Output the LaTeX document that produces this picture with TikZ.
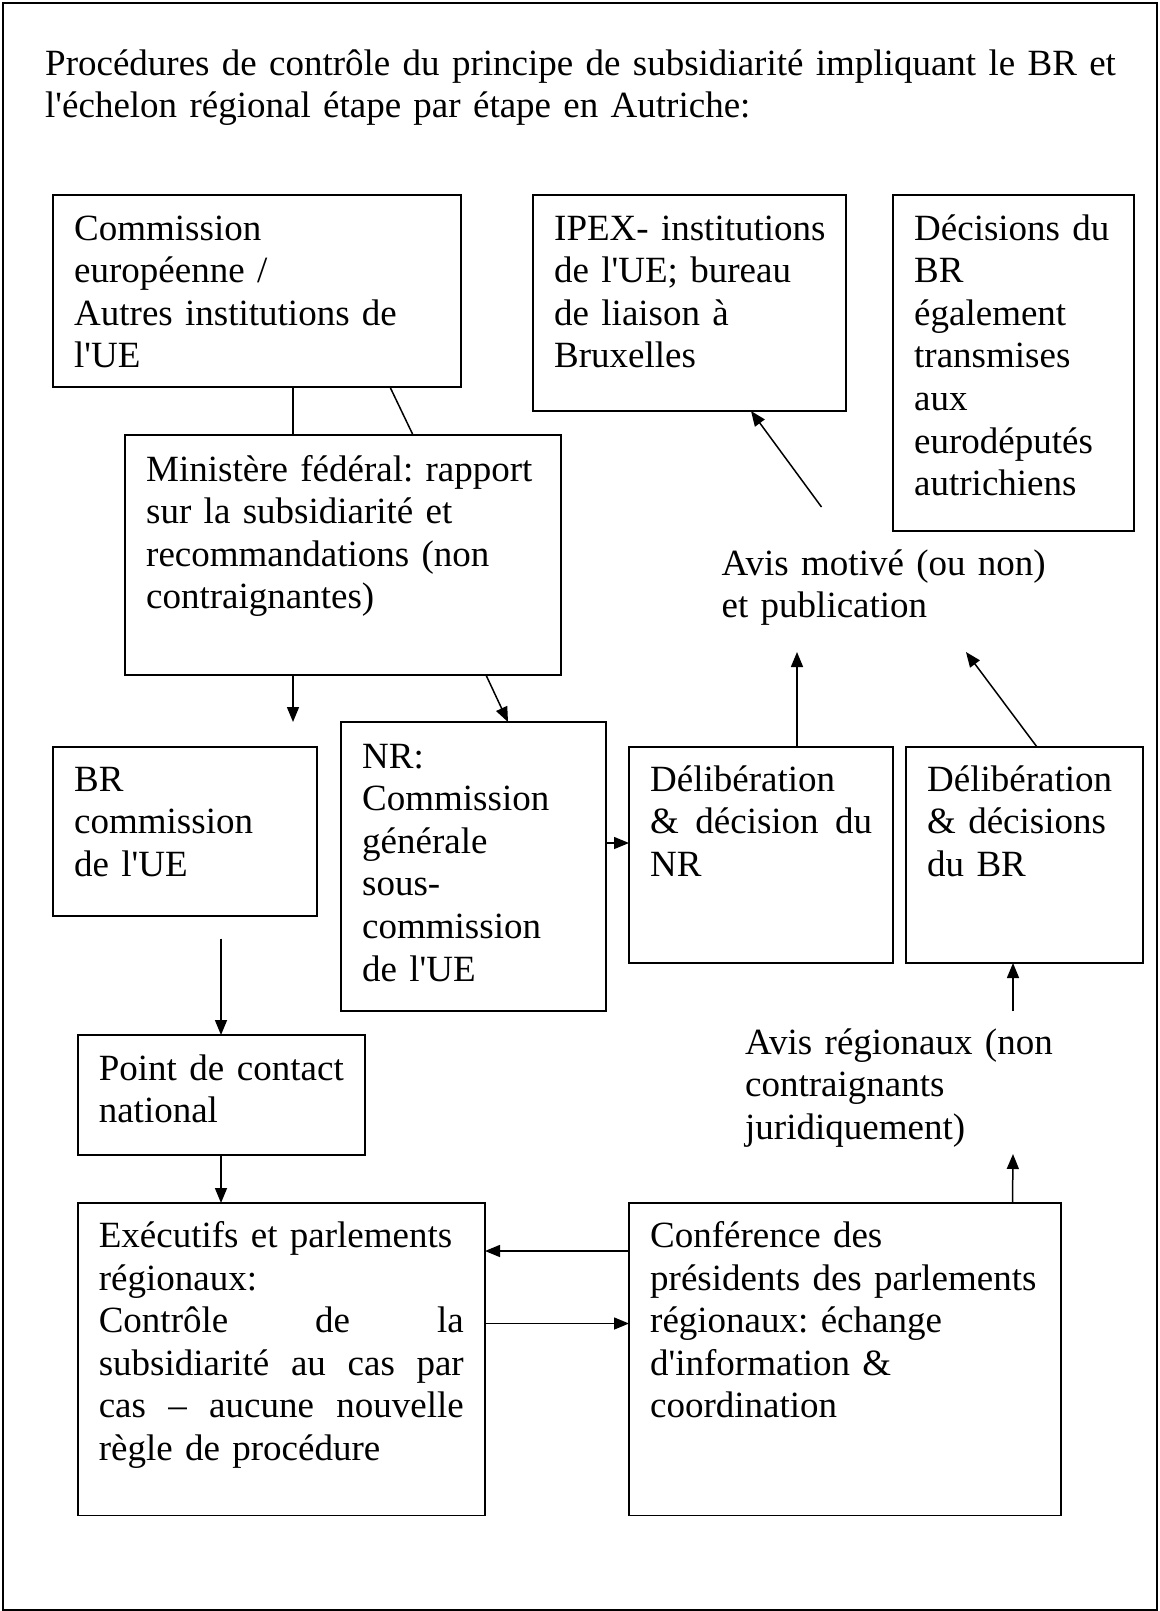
\documentclass[tikz,border=0pt]{standalone}
\usepackage{fontspec}
\setmainfont{Liberation Serif}[Ligatures=TeXOff]
\usetikzlibrary{arrows.meta,calc}
\newcommand\bodyfont{\fontsize{37}{42.6}\selectfont\frenchspacing}
\newcommand\headfont{\fontsize{37}{43}\selectfont\frenchspacing}
% a line stretched to the given width (justified line)
\newcommand\jline[2]{\leavevmode\hbox to #1pt{\spaceskip=0.25em plus 1fil\relax #2}}

\begin{document}
\begin{tikzpicture}[x=1pt,y=-1pt,
  box/.style={draw, line width=1.8pt, inner sep=0pt, outer sep=0pt, anchor=north west},
  txt/.style={anchor=base west, inner sep=0pt, text width=700pt, align=left, font=\bodyfont},
  link/.style={line width=1.5pt},
  arr/.style={line width=1.5pt, -{Triangle[length=15pt,width=12pt]}}]

\useasboundingbox (0,0) rectangle (1159,1611);
\draw[line width=2pt] (3.3,3.3) rectangle (1156.5,1610);

% title
\node[txt, text width=1100pt, font=\headfont] (title) at (45,75) {Procédures de contrôle du principe de subsidiarité impliquant le BR et\\l'échelon régional étape par étape en Autriche:};

% boxes
\node[box, minimum width=408pt, minimum height=192pt] (commission) at (53,195) {};
\node[box, minimum width=313pt, minimum height=216pt] (ipex) at (533,195) {};
\node[box, minimum width=241pt, minimum height=336pt] (decisions) at (893,195) {};
\node[box, minimum width=436pt, minimum height=240pt] (ministry) at (125,435) {};
\node[box, minimum width=264pt, minimum height=169pt] (brcom) at (53,747) {};
\node[box, minimum width=265pt, minimum height=289pt] (nrcom) at (341,722) {};
\node[box, minimum width=264pt, minimum height=216pt] (delibnr) at (629,747) {};
\node[box, minimum width=237pt, minimum height=216pt] (delibbr) at (906,747) {};
\node[box, minimum width=287pt, minimum height=120pt] (contact) at (77.6,1035) {};
\node[box, minimum width=407.4pt, minimum height=312.4pt] (executifs) at (77.6,1203) {};
\node[box, minimum width=432pt, minimum height=312.4pt] (conference) at (629,1203) {};

% box texts
\node[txt] (commission-t) at (74,240) {Commission\\européenne /\\Autres institutions de\\l'UE};
\node[txt] (ipex-t) at (554,240) {IPEX- institutions\\de l'UE; bureau\\de liaison à\\Bruxelles};
\node[txt] (decisions-t) at (914,240) {Décisions du\\BR\\également\\transmises\\aux\\eurodéputés\\autrichiens};
\node[txt] (ministry-t) at (146,481) {Ministère fédéral: rapport\\sur la subsidiarité et\\recommandations (non\\contraignantes)};
\node[txt] (brcom-t) at (74,791) {BR\\commission\\de l'UE};
\node[txt] (nrcom-t) at (362,768) {NR:\\Commission\\générale\\sous-\\commission\\de l'UE};
\node[txt] (delibnr-t) at (650,791) {Délibération\\\jline{222}{\& décision du}\\NR};
\node[txt] (delibbr-t) at (927,791) {Délibération\\\& décisions\\du BR};
\node[txt] (contact-t) at (98.6,1080) {\jline{245}{Point de contact}\\national};
\node[txt] (executifs-t) at (98.6,1247.5) {Exécutifs et parlements\\régionaux:\\\jline{365}{Contrôle de la}\\\jline{365}{subsidiarité au cas par}\\\jline{365}{cas – aucune nouvelle}\\règle de procédure};
\node[txt] (conference-t) at (650,1247.5) {Conférence des\\présidents des parlements\\régionaux: échange\\d'information \&\\coordination};

% free-standing labels
\node[txt] (avis-t) at (721.5,575) {Avis motivé (ou non)\\et publication};
\node[txt] (regional-t) at (745,1054) {Avis régionaux (non\\contraignants\\juridiquement)};

% connectors
\draw[link] ($(commission.south west)+(240,0)$) -- ($(ministry.north west)+(168,0)$);
\draw[link] ($(commission.south west)+(337,0)$) -- ($(ministry.north west)+(288,0)$);
\draw[arr] ($(ministry.south west)+(168,0)$) -- ($(brcom.north west)+(240,-25)$);
\draw[arr] ($(ministry.south west)+(361,0)$) -- ($(nrcom.north west)+(167,0)$);
\draw[arr] ($(brcom.south west)+(168,22.5)$) -- ($(contact.north west)+(143.4,0)$);
\draw[arr] ($(contact.south west)+(143.4,0)$) -- ($(executifs.north west)+(143.4,0)$);
\draw[arr] ($(nrcom.north east)+(0,121)$) -- ($(delibnr.north west)+(0,96)$);
\draw[arr] ($(delibnr.north west)+(168,0)$) -- ($(avis-t.base west)+(75.5,77)$);
\draw[arr] ($(delibbr.north west)+(131,0)$) -- ($(avis-t.base west)+(244.5,77)$);
\draw[arr] ($(avis-t.base west)+(100,-68)$) -- ($(ipex.south west)+(218,0)$);
\draw[arr] ($(regional-t.base west)+(268,-43)$) -- ($(delibbr.south west)+(107,0)$);
\draw[arr] ($(conference.north west)+(383.5,0)$) -- ($(regional-t.base west)+(268,100)$);
\draw[arr] ($(conference.north west)+(0,48)$) -- ($(executifs.north east)+(0,48)$);
\draw[arr] ($(executifs.north east)+(0,120.5)$) -- ($(conference.north west)+(0,120.5)$);
\end{tikzpicture}
\end{document}
